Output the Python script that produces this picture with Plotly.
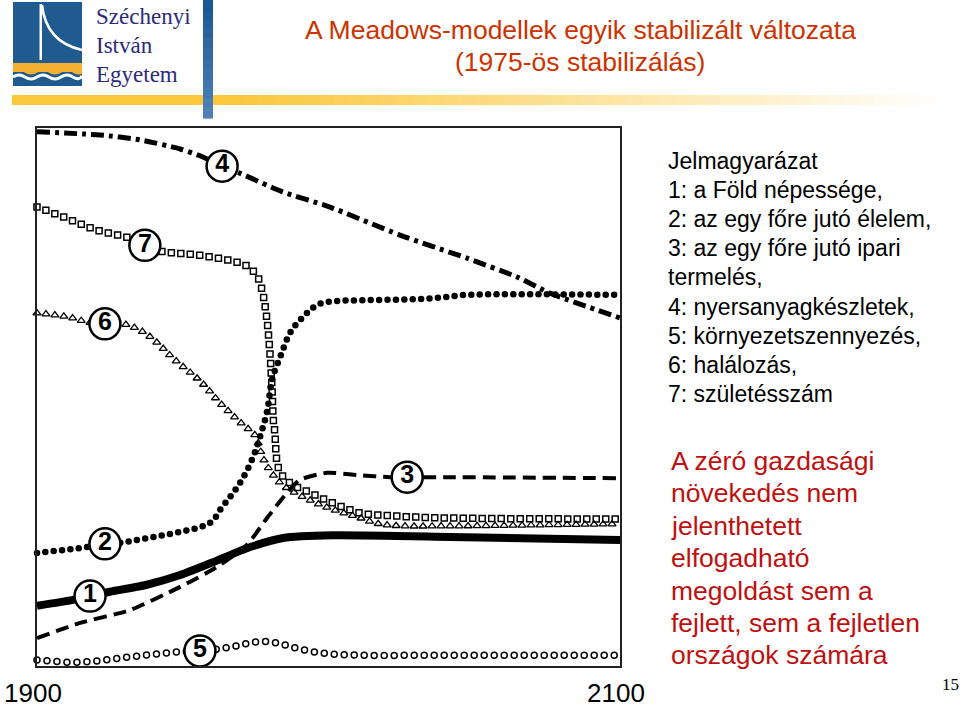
import numpy as np
import plotly.graph_objects as go

# ---------------- data (year, relative level 0-100) ----------------
# 1: population (thick solid)
pop_year = [1900, 1912.3, 1925.0, 1937.7, 1949.1, 1960.4, 1972.0, 1984.4, 2001.5, 2041.7, 2100]
pop_val = [11.2, 12.3, 13.8, 15.1, 16.9, 19.3, 21.9, 23.8, 24.3, 24.0, 23.4]
# 2: food per capita (dots)
food_year = [1900, 1917.2, 1923.3, 1929.5, 1943.2, 1955.9, 1960.4, 1962.8, 1969.6, 1974.1, 1977.5,
             1979.2, 1980.6, 1983.4, 1986.8, 1991.3, 1996.1, 2001.5, 2013.2, 2030.4, 2040.6, 2047.5,
             2064.7, 2100]
food_val = [21.0, 22.1, 22.7, 23.0, 24.3, 25.8, 27.1, 29.0, 34.0, 38.8, 44.4,
            48.1, 53.2, 57.4, 61.9, 64.9, 67.1, 67.8, 68.0, 68.2, 68.6, 69.0,
            69.1, 69.0]
# 3: industrial output per capita (dashed)
ind_year = [1900, 1914.8, 1931.9, 1949.1, 1961.7, 1972.0, 1978.9, 1985.8, 1990.2, 1999.5, 2009.8,
            2021.1, 2041.7, 2100]
ind_val = [5.2, 8.0, 10.4, 14.7, 18.4, 22.5, 27.5, 32.2, 34.6, 35.9, 35.5, 35.1, 35.1, 34.9]
# 4: resources (dash-dot)
res_year = [1900, 1921.6, 1935.3, 1949.1, 1956.9, 1963.5, 1969.6, 1984.4, 2000.5, 2024.5, 2047.5,
            2064.7, 2076.0, 2100]
res_val = [99.3, 98.7, 97.8, 96.1, 94.6, 92.9, 91.6, 88.1, 85.3, 80.1, 75.8, 72.3, 69.3, 64.7]
# 5: pollution (open circles)
pol_year = [1900, 1914.8, 1931.9, 1948.0, 1955.9, 1966.2, 1975.5, 1982.3, 1989.2, 1998.1, 2010.8,
            2041.7, 2100]
pol_val = [1.1, 0.7, 1.7, 2.6, 2.8, 3.5, 4.5, 4.3, 3.3, 2.4, 2.0, 2.0, 2.0]
# 6: death rate (open triangles)
death_year = [1900, 1910.3, 1917.2, 1923.3, 1930.9, 1938.8, 1947.3, 1955.9, 1962.8, 1970.7, 1974.8,
              1977.5, 1981.0, 1985.1, 1991.3, 1999.8, 2009.8, 2020.1, 2041.7, 2100]
death_val = [65.6, 64.9, 63.9, 63.6, 63.4, 61.2, 56.9, 53.0, 48.9, 44.8, 42.9,
             38.7, 35.5, 33.3, 31.4, 29.4, 27.7, 26.2, 26.0, 26.4]
# 7: birth rate (open squares)
birth_year = [1900, 1908.9, 1920.6, 1930.9, 1936.4, 1943.2, 1954.9, 1969.6, 1974.8, 1977.2, 1978.9,
              1979.9, 1980.6, 1981.0, 1981.6, 1982.7, 1986.8, 1993.7, 2001.5, 2009.8, 2016.6,
              2041.7, 2100]
birth_val = [85.3, 83.5, 81.0, 79.7, 78.3, 77.0, 76.4, 74.9, 73.0, 69.9, 64.3,
             58.2, 51.9, 46.3, 43.3, 37.0, 34.0, 32.2, 30.3, 28.6, 28.1,
             27.5, 27.3]

label_names = ["1", "2", "3", "4", "5", "6", "7"]
label_years = [1918.2, 1923.3, 2027.0, 1963.5, 1955.9, 1923.3, 1937.0]

legend_lines = ["Jelmagyarázat", "1: a Föld népessége,", "2: az egy főre jutó élelem,",
                "3: az egy főre jutó ipari", "termelés,", "4: nyersanyagkészletek,",
                "5: környezetszennyezés,", "6: halálozás,", "7: születésszám"]
note_lines = ["A zéró gazdasági", "növekedés nem", "jelenthetett", "elfogadható",
              "megoldást sem a", "fejlett, sem a fejletlen", "országok számára"]
x_ticks = [1900, 2100]

# ---------------- geometry ----------------
W, H = 960, 709
L, R, T, B = 37, 340, 128, 43
PW, PH = W - L - R, H - T - B
X0, X1 = 1900, 2100
SX, SY = PW / float(X1 - X0), PH / 100.0
SANS = "Liberation Sans, Arial, sans-serif"
SERIF = "Liberation Serif, Times New Roman, serif"


def px(x, y):
    return ((x - L) / PW, (H - B - y) / PH)


def catmull(xs, ys, n=14):
    P = np.column_stack([(np.asarray(xs, float) - X0) * SX, np.asarray(ys, float) * SY])
    P = np.vstack([P[0], P, P[-1]])
    out = []
    for i in range(1, len(P) - 2):
        p0, p1, p2, p3 = P[i - 1], P[i], P[i + 1], P[i + 2]
        for t in np.linspace(0, 1, n, endpoint=False):
            t2, t3 = t * t, t * t * t
            out.append(0.5 * (2 * p1 + (-p0 + p2) * t + (2 * p0 - 5 * p1 + 4 * p2 - p3) * t2
                              + (-p0 + 3 * p1 - 3 * p2 + p3) * t3))
    out.append(P[-2])
    return np.array(out)


def along(xs, ys, step):
    """Positions of evenly spaced markers (in pixels of path length) along the read curve."""
    C = catmull(xs, ys)
    seg = np.hypot(np.diff(C[:, 0]), np.diff(C[:, 1]))
    s = np.concatenate([[0], np.cumsum(seg)])
    t = np.arange(0, s[-1] + 1e-6, step)
    return np.interp(t, s, C[:, 0]) / SX + X0, np.interp(t, s, C[:, 1]) / SY


fig = go.Figure()

# solid / dashed / dash-dot lines
fig.add_trace(go.Scatter(x=res_year, y=res_val, mode="lines",
                         line=dict(color="black", width=5, dash="13px,5px,4px,5px", shape="spline", smoothing=0.6)))
fig.add_trace(go.Scatter(x=ind_year, y=ind_val, mode="lines",
                         line=dict(color="black", width=4, dash="13px,7px", shape="spline", smoothing=0.6)))
fig.add_trace(go.Scatter(x=pop_year, y=pop_val, mode="lines",
                         line=dict(color="black", width=8, shape="spline", smoothing=0.6)))


def marker_series(xs, ys, step, symbol, size, lw):
    ax, ay = along(xs, ys, step)
    fig.add_trace(go.Scatter(x=ax, y=ay, mode="markers", cliponaxis=False,
                             marker=dict(symbol=symbol, size=size, color="black",
                                         line=dict(color="black", width=lw))))


marker_series(food_year, food_val, 8.4, "circle", 6.5, 0)
marker_series(birth_year, birth_val, 9.5, "square-open", 6, 1.5)
marker_series(death_year, death_val, 9.0, "triangle-up-open", 7, 1.3)
marker_series(pol_year, pol_val, 10.0, "circle-open", 6, 1.5)

# circled labels on the curves
series_map = {"1": (pop_year, pop_val), "2": (food_year, food_val), "3": (ind_year, ind_val),
              "4": (res_year, res_val), "5": (pol_year, pol_val), "6": (death_year, death_val),
              "7": (birth_year, birth_val)}
lx, ly, lt = [], [], []
for name, yr in zip(label_names, label_years):
    xs, ys = series_map[name]
    lx.append(yr)
    ly.append(float(np.interp(yr, xs, ys)))
    lt.append("<b>%s</b>" % name)
fig.add_trace(go.Scatter(x=lx, y=ly, mode="markers+text", text=lt, textposition="middle center",
                         cliponaxis=False,
                         textfont=dict(family=SANS, size=25, color="black"),
                         marker=dict(symbol="circle", size=31, color="white",
                                     line=dict(color="black", width=2.5))))

shapes = []
annotations = []


def rect(x0, y0, x1, y1, color):
    a = px(x0, y0)
    b = px(x1, y1)
    shapes.append(dict(type="rect", xref="paper", yref="paper", x0=a[0], y0=b[1], x1=b[0], y1=a[1],
                       fillcolor=color, line=dict(width=0), layer="above"))


def path(points_cmds, fill=None, lcolor=None, lw=0):
    s = ""
    for cmd, pts in points_cmds:
        s += cmd
        s += " ".join("%.5f,%.5f" % px(x, y) for x, y in pts) + " "
    shapes.append(dict(type="path", xref="paper", yref="paper", path=s.strip(),
                       fillcolor=fill if fill else "rgba(0,0,0,0)",
                       line=dict(color=lcolor if lcolor else "rgba(0,0,0,0)", width=lw), layer="above"))


# yellow header bar with fade
n = 60
x_start, x_end = 12, 935
for i in range(n):
    x0 = x_start + (x_end - x_start) * i / n
    x1 = x_start + (x_end - x_start) * (i + 1) / n + 0.6
    f = max(0.0, (x0 - 230) / (x_end - 230))
    r = int(251 + (255 - 251) * f)
    g = int(200 + (255 - 200) * f)
    bb = int(60 + (255 - 60) * f)
    rect(x0, 95, x1, 105, "rgb(%d,%d,%d)" % (r, g, bb))

# vertical blue bar
for i in range(12):
    y0 = 0 + 118 * i / 12
    y1 = 118 * (i + 1) / 12 + 0.6
    f = i / 11
    rect(203, y0, 213, y1, "rgb(%d,%d,%d)" % (int(28 + 50 * f), int(88 + 40 * f), int(150 + 35 * f)))

# logo
rect(13, 2, 82, 64, "#1f5b8e")
rect(13, 63, 82, 72, "#f4b130")
rect(13, 72, 82, 86, "#1f5b8e")
path([("M", [(18, 14)]), ("L", [(33, 6), (33, 12), (26, 16), (26, 56), (18, 56)]), ("Z", [])], fill="white")
rect(39.5, 4, 42, 60, "white")
path([("M", [(42, 5)]), ("Q", [(46, 42), (82, 50)])], lcolor="white", lw=2.5)
path([("M", [(13, 71)]), ("Q", [(19, 67), (25, 71)]), ("T", [(37, 71)]), ("T", [(49, 71)]),
      ("T", [(61, 71)]), ("T", [(73, 71)]), ("T", [(85, 71)])], lcolor="#f4b130", lw=3)
path([("M", [(13, 77)]), ("Q", [(19, 73), (25, 77)]), ("T", [(37, 77)]), ("T", [(49, 77)]),
      ("T", [(61, 77)]), ("T", [(73, 77)]), ("T", [(82, 76)])], lcolor="white", lw=3)
rect(82, 60, 86, 88, "white")


def ann(text, x, y, size, color, family=SANS, xanchor="left"):
    p = px(x, y)
    annotations.append(dict(text=text, x=p[0], y=p[1], xref="paper", yref="paper", showarrow=False,
                            xanchor=xanchor, yanchor="middle",
                            font=dict(family=family, size=size, color=color)))


for i, t in enumerate(["Széchenyi", "István", "Egyetem"]):
    ann(t, 94, 16 + 29.5 * i, 23, "#2d2a7a", family=SERIF)

ann("A Meadows-modellek egyik stabilizált változata", 580, 30, 26.5, "#cc3300", xanchor="center")
ann("(1975-ös stabilizálás)", 580, 62, 26.5, "#cc3300", xanchor="center")

for i, t in enumerate(legend_lines):
    ann(t, 666, 161 + 29.1 * i, 23, "black")
for i, t in enumerate(note_lines):
    ann(t, 669, 461 + 32.4 * i, 26.5, "#bf1010")

ann("15", 950, 684, 17, "black", family=SERIF, xanchor="center")

fig.update_layout(
    template="none",
    width=W, height=H, margin=dict(l=L, r=R, t=T, b=B, autoexpand=False),
    paper_bgcolor="white", plot_bgcolor="white", showlegend=False,
    shapes=shapes, annotations=annotations,
    xaxis=dict(range=[X0, X1], tickvals=x_ticks, ticktext=[str(v) for v in x_ticks], automargin=False,
               tickfont=dict(family=SANS, size=26, color="black"), ticks="", ticklabelstandoff=3,
               ticklabelshift=-4,
               showgrid=False, zeroline=False, showline=True, linecolor="#222", linewidth=2, mirror=True),
    yaxis=dict(range=[0, 100], showticklabels=False, ticks="", showgrid=False, zeroline=False,
               automargin=False,
               showline=True, linecolor="#222", linewidth=2, mirror=True),
)

fig.write_html("out.html")
